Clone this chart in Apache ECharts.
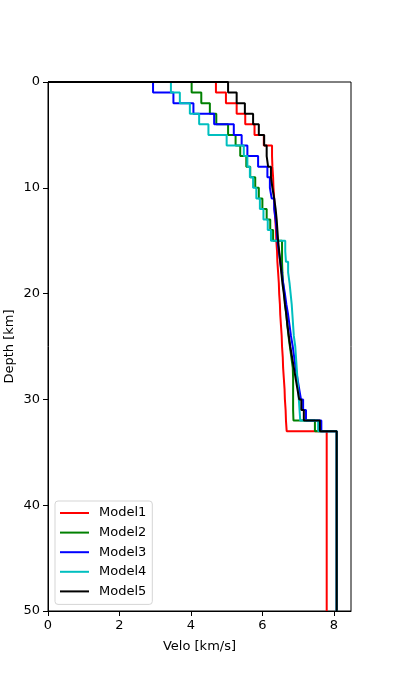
<!DOCTYPE html>
<html>
<head>
<meta charset="utf-8">
<script src="https://cdn.jsdelivr.net/npm/echarts@6/dist/echarts.min.js"></script>
<style>
html,body{margin:0;padding:0;background:#fff;}
#chart{width:394px;height:688px;}
</style>
</head>
<body>
<div id="chart"></div>
<script>
// Layer top depths [km]; last layer (mantle) extends to bottomDepth
const layerTops = [0,1,2,3,4,5,6,7,8,9,10,11,12,13,14,15,16,17,18,19,20,21,22,23,24,25,26,27,28,29,30,31,32,33];
const bottomDepth = 50;

const modelNames = ['Model1','Model2','Model3','Model4','Model5'];

const model1 = [4.70,4.98,5.28,5.52,5.78,6.04,6.27,6.28,6.30,6.31,6.33,6.34,6.36,6.38,6.39,6.41,6.42,6.44,6.46,6.47,6.49,6.50,6.52,6.54,6.55,6.57,6.58,6.60,6.62,6.63,6.65,6.66,6.68,7.80];
const model2 = [4.02,4.29,4.53,4.71,5.04,5.25,5.38,5.55,5.66,5.80,5.90,6.00,6.12,6.22,6.30,6.55,6.55,6.56,6.58,6.61,6.64,6.67,6.70,6.73,6.77,6.81,6.85,6.86,6.86,6.86,6.86,6.87,7.47,8.08];
const model3 = [2.94,3.51,4.07,4.65,5.20,5.42,5.58,5.88,6.14,6.21,6.26,6.33,6.37,6.40,6.42,6.46,6.50,6.54,6.58,6.63,6.67,6.72,6.76,6.80,6.85,6.89,6.93,6.98,7.03,7.08,7.14,7.22,7.65,8.08];
const model4 = [3.44,3.69,3.97,4.23,4.49,5.00,5.48,5.58,5.65,5.74,5.83,5.93,6.03,6.15,6.24,6.64,6.66,6.72,6.76,6.79,6.82,6.84,6.86,6.88,6.92,6.94,6.96,6.98,7.00,7.02,7.04,7.06,7.56,8.08];
const model5 = [5.04,5.28,5.51,5.74,5.90,6.05,6.12,6.16,6.24,6.28,6.33,6.37,6.40,6.42,6.44,6.47,6.50,6.53,6.56,6.60,6.63,6.67,6.70,6.74,6.78,6.83,6.88,6.93,6.98,7.03,7.09,7.16,7.61,8.08];

const xTicks = [0,2,4,6,8];
const yTicks = [0,10,20,30,40,50];

const models = [model1, model2, model3, model4, model5];
const colors = ['#ff0000','#008000','#0000ff','#00bfbf','#000000'];

function stepPoints(vel) {
  const pts = [[0, layerTops[0]]];
  for (let i = 0; i < vel.length; i++) {
    const top = layerTops[i];
    const bot = (i + 1 < layerTops.length) ? layerTops[i + 1] : bottomDepth;
    pts.push([vel[i], top]);
    pts.push([vel[i], bot]);
  }
  return pts;
}

const font = 'DejaVu Sans';
const chart = echarts.init(document.getElementById('chart'), null, {renderer: 'canvas'});
chart.setOption({
  animation: false,
  backgroundColor: '#ffffff',
  grid: {
    left: 48, right: 43, top: 82, bottom: 77,
    containLabel: false, outerBoundsMode: 'none',
    show: true, borderColor: '#000', borderWidth: 1, backgroundColor: 'transparent'
  },
  xAxis: {
    type: 'value', min: 0, max: 8.48,
    name: 'Velo [km/s]', nameLocation: 'middle', nameGap: 29,
    nameTextStyle: {fontFamily: font, fontSize: 13, color: '#000'},
    axisLine: {show: true, onZero: false, lineStyle: {color: '#000', width: 1}},
    axisTick: {show: true, length: 5, lineStyle: {color: '#000', width: 1}, customValues: xTicks},
    axisLabel: {fontFamily: font, fontSize: 13, color: '#000', margin: 8, customValues: xTicks},
    splitLine: {show: false}
  },
  yAxis: {
    type: 'value', min: 0, max: 50, inverse: true,
    name: 'Depth [km]', nameLocation: 'middle', nameGap: 32, nameRotate: 90,
    nameMoveOverlap: false,
    nameTextStyle: {fontFamily: font, fontSize: 13, color: '#000'},
    axisLine: {show: true, onZero: false, lineStyle: {color: '#000', width: 1}},
    axisTick: {show: true, length: 5, lineStyle: {color: '#000', width: 1}, customValues: yTicks},
    axisLabel: {fontFamily: font, fontSize: 13, color: '#000', margin: 8, customValues: yTicks},
    splitLine: {show: false}
  },
  legend: {
    orient: 'vertical', left: 55, top: 501,
    data: modelNames,
    icon: 'rect', itemWidth: 29, itemHeight: 2, itemGap: 3.6,
    padding: [4, 6, 5, 5],
    backgroundColor: '#fff', borderColor: '#d5d5d5', borderWidth: 1, borderRadius: 3,
    textStyle: {fontFamily: font, fontSize: 13, color: '#000', lineHeight: 16, padding: [0,0,0,5]}
  },
  series: models.map((m, i) => ({
    name: modelNames[i],
    type: 'line',
    data: stepPoints(m),
    showSymbol: false, symbol: 'none',
    clip: true,
    lineStyle: {color: colors[i], width: 2},
    itemStyle: {color: colors[i]},
    z: 2 + i
  }))
});
</script>
</body>
</html>
